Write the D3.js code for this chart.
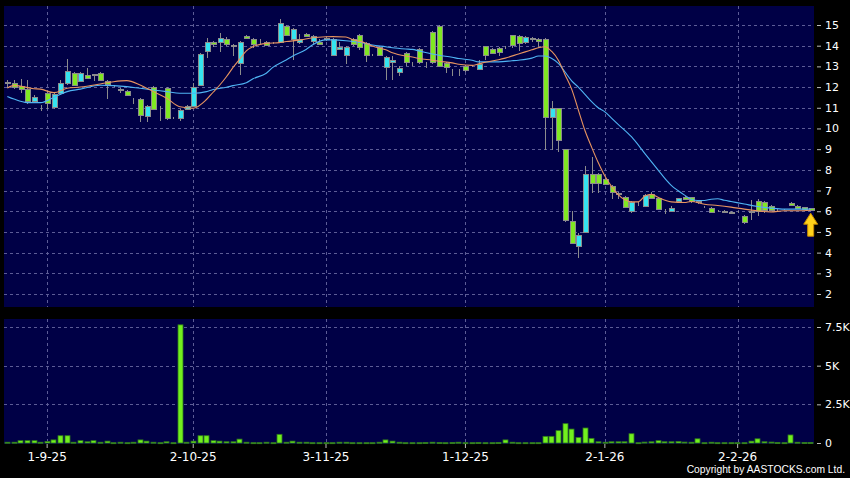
<!DOCTYPE html>
<html>
<head>
<meta charset="utf-8">
<script src="https://cdn.jsdelivr.net/npm/d3@7"></script>
<style>
  body { margin: 0; background: #000; }
  svg { display: block; }
</style>
</head>
<body>
<svg id="chart" width="850" height="478"></svg>
<script>
// daily candles, 22-8-25 .. 20-2-26
const opens = [
  12.2, 12.2, 12.05, 11.9, 11.3, 11.1, 11.7, 11.0, 11.7, 12.2,
  12.7, 12.3, 12.6, 12.55, 12.7, 12.3, 12.05, 11.85, 11.82, 11.32,
  11.4, 10.6, 12.0, 11.0, 11.95, 10.52, 10.5, 10.95, 11.1, 12.1,
  13.75, 14.2, 14.15, 14.3, 14.05, 13.2, 14.45, 14.3, 14.2, 14.2,
  14.15, 14.2, 14.95, 14.3, 14.15, 14.55, 14.2, 14.2, 14.38, 13.55,
  13.85, 13.55, 14.3, 14.5, 14.15, 13.55, 13.95, 12.95, 13.2, 12.7,
  13.65, 13.12, 13.85, 13.0, 14.65, 14.95, 13.15, 12.8, 12.8, 13.0,
  13.0, 12.9, 14.0, 13.85, 13.9, 13.9, 14.5, 14.45, 14.15, 14.38,
  14.3, 14.3, 10.55, 11.0, 9.0, 5.55, 4.3, 5.0, 7.8, 7.8,
  7.55, 7.2, 6.88, 6.7, 6.0, 6.35, 6.25, 6.85, 6.65, 5.98,
  6.0, 6.5, 6.7, 6.68, 6.42, 6.22, 6.15, 6.0, 5.98, 5.93,
  5.95, 5.78, 5.97, 6.5, 6.45, 6.25, 6.05, 6.1, 6.42, 6.25,
  6.2, 6.15
];
const highs = [
  12.35, 12.35, 12.4, 12.35, 11.6, 11.15, 11.75, 11.75, 12.35, 13.35,
  12.75, 12.75, 12.9, 12.65, 12.72, 12.35, 12.1, 11.95, 11.85, 11.45,
  11.45, 11.15, 12.05, 11.1, 12.0, 10.55, 10.95, 11.15, 12.2, 13.65,
  14.35, 14.25, 14.6, 14.4, 14.1, 14.25, 14.5, 14.35, 14.3, 14.25,
  14.2, 15.3, 15.0, 14.85, 14.55, 14.6, 14.5, 14.3, 14.4, 14.35,
  14.2, 14.0, 14.35, 14.55, 14.2, 13.6, 14.0, 13.5, 13.5, 13.0,
  13.7, 13.2, 13.9, 13.2, 14.7, 15.0, 13.2, 12.85, 12.85, 13.05,
  13.05, 13.3, 14.0, 13.9, 13.95, 14.0, 14.5, 14.5, 14.45, 14.4,
  14.35, 14.35, 11.35, 11.0, 9.0, 6.0, 4.95, 8.2, 8.6, 7.85,
  7.6, 7.25, 6.95, 6.75, 6.5, 6.45, 6.85, 6.95, 6.7, 6.12,
  6.25, 6.65, 6.75, 6.7, 6.5, 6.25, 6.2, 6.05, 6.05, 6.0,
  6.0, 5.8, 6.55, 6.6, 6.5, 6.3, 6.1, 6.12, 6.45, 6.28,
  6.22, 6.18
];
const lows = [
  11.95, 11.9, 11.7, 11.2, 11.25, 10.85, 10.95, 10.95, 11.6, 12.1,
  12.05, 12.25, 12.4, 12.3, 12.3, 11.4, 12.0, 11.7, 11.55, 11.2,
  10.3, 10.3, 10.9, 10.35, 10.4, 10.45, 10.35, 10.9, 11.05, 12.05,
  13.4, 13.95, 13.7, 14.0, 13.5, 12.6, 14.3, 13.9, 14.1, 14.0,
  14.1, 14.15, 14.45, 13.3, 14.1, 14.4, 14.1, 14.05, 14.25, 13.5,
  13.8, 13.1, 14.0, 13.8, 13.2, 13.5, 13.5, 12.35, 12.35, 12.55,
  13.0, 13.0, 13.1, 12.9, 13.1, 12.95, 12.7, 12.55, 12.55, 12.75,
  12.95, 12.85, 13.3, 13.65, 13.5, 13.85, 13.9, 13.75, 14.1, 14.2,
  13.9, 8.95, 8.95, 8.85, 5.5, 4.45, 3.75, 4.95, 6.9, 6.9,
  7.25, 6.6, 6.6, 6.15, 5.9, 6.25, 6.2, 6.6, 6.05, 5.85,
  5.95, 6.45, 6.55, 6.4, 6.35, 6.15, 5.95, 5.95, 5.95, 5.85,
  5.9, 5.4, 5.6, 5.75, 5.9, 6.0, 6.0, 6.05, 6.28, 6.12,
  6.08, 6.03
];
const closes = [
  12.25, 12.02, 11.9, 11.3, 11.5, 11.1, 11.22, 11.65, 12.2, 12.8,
  12.1, 12.7, 12.45, 12.62, 12.35, 12.15, 12.05, 11.92, 11.62, 11.3,
  10.62, 11.1, 10.95, 10.98, 10.5, 10.5, 10.9, 11.1, 12.0, 13.6,
  14.2, 14.1, 14.35, 14.05, 14.0, 14.2, 14.35, 14.05, 14.2, 14.05,
  14.15, 15.1, 14.5, 14.8, 14.3, 14.45, 14.45, 14.1, 14.32, 14.3,
  13.95, 13.95, 14.05, 13.9, 13.55, 13.55, 13.55, 13.45, 13.3, 12.9,
  13.2, 13.1, 13.2, 13.0, 13.2, 13.0, 12.95, 12.8, 12.8, 12.82,
  13.0, 13.12, 13.55, 13.68, 13.72, 13.9, 14.0, 14.12, 14.4, 14.35,
  14.2, 10.55, 11.0, 9.45, 5.55, 4.5, 4.85, 7.8, 7.35, 7.35,
  7.3, 6.9, 6.85, 6.2, 6.45, 6.35, 6.8, 6.65, 6.1, 5.97,
  6.15, 6.63, 6.6, 6.5, 6.48, 6.2, 5.97, 6.0, 6.03, 5.97,
  5.95, 5.5, 6.03, 6.0, 6.05, 6.05, 6.05, 6.1, 6.3, 6.15,
  6.1, 6.05
];
const volumes = [
  50, 50, 150, 150, 150, 50, 100, 200, 470, 470,
  50, 150, 80, 150, 50, 120, 20, 50, 20, 50,
  200, 120, 50, 20, 80, 20, 7640, 50, 120, 470,
  470, 150, 120, 80, 80, 250, 50, 20, 20, 50,
  20, 560, 50, 120, 50, 50, 20, 20, 20, 20,
  50, 50, 20, 20, 20, 20, 50, 200, 120, 50,
  20, 20, 20, 30, 50, 30, 20, 30, 50, 20,
  20, 30, 20, 20, 30, 200, 50, 20, 20, 20,
  20, 430, 430, 800, 1250, 900, 360, 970, 300, 80,
  50, 80, 80, 80, 600, 20, 60, 80, 150, 80,
  80, 100, 60, 50, 270, 20, 50, 20, 20, 20,
  20, 20, 120, 270, 80, 60, 30, 20, 520, 50,
  30, 30
];

// moving averages at these candle indices
const ma10Idx = [0, 1, 4, 5, 7, 9, 11, 14, 16, 18, 20, 22, 24, 26, 28, 30, 31, 32, 33, 34,
  35, 36, 37, 39, 41, 42, 44, 46, 48, 49, 51, 52, 54, 55, 57, 58, 60, 61, 62, 64,
  65, 67, 68, 70, 71, 72, 74, 75, 77, 78, 79, 80, 81, 82, 83, 84, 85, 86, 87, 88,
  89, 90, 91, 92, 93, 94, 95, 96, 97, 98, 100, 102, 103, 105, 107, 109, 111, 113, 115, 117,
  119, 121];
const ma10 = [11.95, 12.08, 11.92, 11.9, 11.73, 11.94, 12.0, 12.15, 12.26, 12.31, 12.1, 11.78, 11.46, 11.05, 10.98, 11.4, 11.75, 12.1, 12.5, 12.95,
  13.35, 13.75, 13.95, 14.11, 14.15, 14.2, 14.27, 14.38, 14.43, 14.44, 14.42, 14.3, 14.12, 13.98, 13.8, 13.66, 13.5, 13.45, 13.38, 13.3,
  13.25, 13.17, 13.1, 13.05, 13.12, 13.2, 13.32, 13.4, 13.6, 13.7, 13.8, 13.9, 13.95, 13.72, 13.3, 12.6, 11.9, 10.9, 9.9, 9.1,
  8.35, 7.7, 7.2, 6.8, 6.55, 6.45, 6.45, 6.72, 6.82, 6.67, 6.45, 6.42, 6.47, 6.34, 6.28, 6.2, 6.1, 6.02, 5.97, 6.02,
  6.02, 6.05];
const ma20Idx = [0, 1, 3, 5, 7, 9, 11, 14, 16, 18, 20, 22, 24, 26, 28, 30, 31, 33, 34, 36,
  37, 39, 40, 42, 43, 45, 46, 48, 49, 51, 52, 54, 55, 57, 58, 60, 61, 62, 64, 65,
  67, 68, 70, 71, 73, 74, 76, 77, 79, 80, 81, 82, 83, 84, 85, 86, 87, 88, 89, 90,
  91, 92, 94, 96, 98, 99, 100, 101, 102, 103, 104, 105, 106, 107, 108, 109, 111, 113, 115, 117,
  119, 121];
const ma20 = [11.55, 11.42, 11.25, 11.25, 11.5, 11.78, 11.9, 12.09, 12.07, 12.02, 11.94, 11.86, 11.78, 11.7, 11.7, 11.78, 11.88, 11.99, 12.07, 12.21,
  12.4, 12.67, 12.95, 13.31, 13.5, 13.82, 14.05, 14.28, 14.28, 14.24, 14.2, 14.1, 14.03, 13.95, 13.9, 13.84, 13.82, 13.75, 13.6, 13.54,
  13.44, 13.38, 13.3, 13.22, 13.22, 13.22, 13.27, 13.3, 13.4, 13.5, 13.5, 13.38, 13.15, 12.73, 12.3, 12.0, 11.65, 11.3, 11.0, 10.8,
  10.5, 10.2, 9.6, 8.8, 8.0, 7.6, 7.25, 7.0, 6.78, 6.58, 6.52, 6.52, 6.58, 6.6, 6.53, 6.47, 6.35, 6.23, 6.15, 6.1,
  6.1, 6.1];

const dateTickIdx = [6, 28, 48, 69, 90, 110];
const dateTickLabels = ['1-9-25', '2-10-25', '3-11-25', '1-12-25', '2-1-26', '2-2-26'];
const priceTicks = [2, 3, 4, 5, 6, 7, 8, 9, 10, 11, 12, 13, 14, 15];
const volTicks = [0, 2500, 5000, 7500];

const W = 850, H = 478;
const left = 4, right = 814;
const priceTop = 6, priceBottom = 307;
const volTop = 319, volBottom = 444;

const svg = d3.select('#chart');
svg.append('rect').attr('width', W).attr('height', H).attr('fill', '#000');

const candles = closes.map((c, i) => ({
  i: i, open: opens[i], high: highs[i], low: lows[i], close: c, vol: volumes[i]
}));

const x = d3.scaleBand().domain(d3.range(candles.length)).range([left, right]);
const xc = i => x(i) + x.bandwidth() / 2;
const y = d3.scaleLinear().domain([2, 15]).range([294, 25]);
const yv = d3.scaleLinear().domain([0, 7500]).range([443, 327]);

/*
 * panels + dashed grid
 */
function drawPanel(top, bottom, hTicks, scale) {
  const g = svg.append('g');
  g.append('rect')
    .attr('x', left).attr('y', top)
    .attr('width', right - left).attr('height', bottom - top)
    .attr('fill', '#000046');
  g.selectAll('.hgrid').data(hTicks).enter().append('line')
    .attr('x1', left).attr('x2', right)
    .attr('y1', d => Math.round(scale(d)) + 0.5)
    .attr('y2', d => Math.round(scale(d)) + 0.5)
    .attr('stroke', '#5c5c96').attr('stroke-dasharray', '3,3');
  g.selectAll('.vgrid').data(dateTickIdx).enter().append('line')
    .attr('x1', d => Math.round(xc(d)) + 0.5).attr('x2', d => Math.round(xc(d)) + 0.5)
    .attr('y1', top).attr('y2', bottom)
    .attr('stroke', '#5c5c96').attr('stroke-dasharray', '3,3');
  return g;
}

drawPanel(priceTop, priceBottom, priceTicks, y);
drawPanel(volTop, volBottom, volTicks.filter(d => d > 0), yv);

// volume bars
svg.append('g').selectAll('rect').data(candles).enter().append('rect')
  .attr('x', d => Math.round(x(d.i)) + 1)
  .attr('y', d => yv(d.vol))
  .attr('width', 5)
  .attr('height', d => Math.max(1, yv(0) - yv(d.vol)))
  .attr('fill', '#72f01e')
  .attr('stroke', '#2f7a1c').attr('stroke-width', 0.8);

// candles
const cg = svg.append('g').attr('shape-rendering', 'crispEdges');
cg.selectAll('.wick').data(candles).enter().append('line')
  .attr('x1', d => Math.round(xc(d.i)) + 0.5).attr('x2', d => Math.round(xc(d.i)) + 0.5)
  .attr('y1', d => y(d.high)).attr('y2', d => y(d.low))
  .attr('stroke', '#8c8c8c');
cg.selectAll('.body').data(candles).enter().append('rect')
  .attr('x', d => Math.round(xc(d.i)) - 2)
  .attr('y', d => Math.round(y(Math.max(d.open, d.close))))
  .attr('width', 5)
  .attr('height', d => Math.max(0, Math.round(Math.abs(y(d.open) - y(d.close)))))
  .attr('fill', d => d.close >= d.open ? '#35e4f0' : '#80e822')
  .attr('stroke', '#8c8c8c');

// moving averages
const maLine = d3.line()
  .x(d => xc(d[0]))
  .y(d => y(d[1]))
  .curve(d3.curveMonotoneX);
svg.append('path')
  .datum(ma20Idx.map((d, k) => [d, ma20[k]]))
  .attr('d', maLine).attr('fill', 'none')
  .attr('stroke', '#4fb4f4').attr('stroke-width', 1.1);
svg.append('path')
  .datum(ma10Idx.map((d, k) => [d, ma10[k]]))
  .attr('d', maLine).attr('fill', 'none')
  .attr('stroke', '#e89460').attr('stroke-width', 1.1);

// last-price arrow
const last = candles[candles.length - 1];
const ax = xc(last.i), ay = y(last.close) + 3;
svg.append('path')
  .attr('d', `M${ax},${ay} L${ax + 7},${ay + 11} L${ax + 3},${ay + 11} L${ax + 3},${ay + 23}
    L${ax - 3},${ay + 23} L${ax - 3},${ay + 11} L${ax - 7},${ay + 11} Z`)
  .attr('fill', '#ffd21a').attr('stroke', '#c88a00').attr('stroke-width', 1);

/*
 * axes
 */
function styleAxis(g) {
  g.select('.domain').remove();
  g.selectAll('.tick line').attr('stroke', '#bbbbbb');
  g.selectAll('.tick text')
    .attr('fill', '#ffffff')
    .style('font-family', '"DejaVu Sans", sans-serif')
    .style('font-size', '11px');
}

svg.append('g')
  .attr('transform', `translate(${right + 3},0)`)
  .call(d3.axisRight(y).tickValues(priceTicks).tickSize(4).tickPadding(4))
  .call(styleAxis);

svg.append('g')
  .attr('transform', `translate(${right + 3},0)`)
  .call(d3.axisRight(yv).tickValues(volTicks).tickSize(4).tickPadding(4)
    .tickFormat(d => d === 0 ? '0' : (d / 1000) + 'K'))
  .call(styleAxis);

svg.append('g')
  .attr('transform', `translate(0,${volBottom})`)
  .call(d3.axisBottom(x).tickValues(dateTickIdx).tickSize(4).tickPadding(4)
    .tickFormat((d, k) => dateTickLabels[k]))
  .call(styleAxis)
  .selectAll('.tick text').style('font-size', '12px');

svg.append('text')
  .attr('x', 845).attr('y', 473)
  .attr('text-anchor', 'end')
  .attr('fill', '#ffffff')
  .style('font-family', '"Liberation Sans", Arial, sans-serif')
  .style('font-size', '10.3px')
  .text('Copyright by AASTOCKS.com Ltd.');
</script>
</body>
</html>
